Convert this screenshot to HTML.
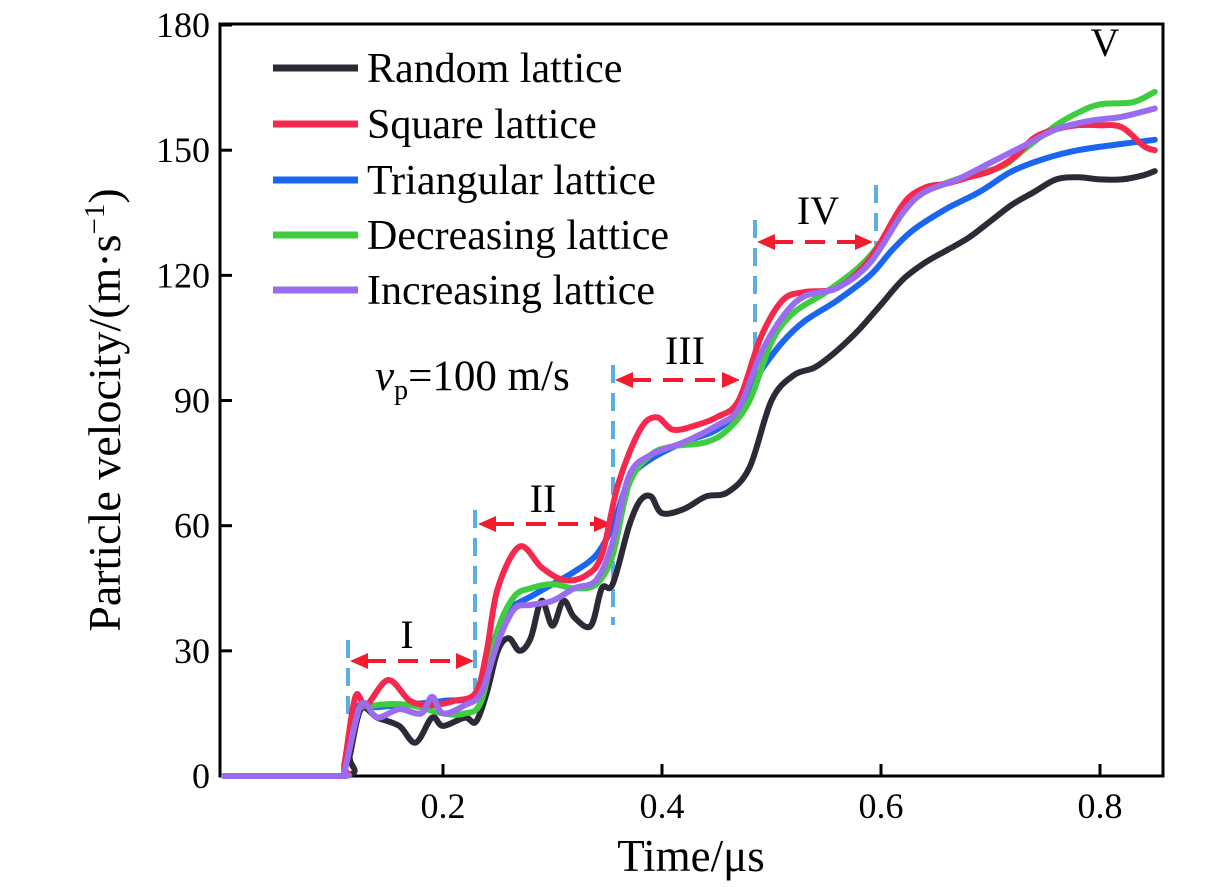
<!DOCTYPE html>
<html><head><meta charset="utf-8"><style>
body{margin:0;background:#fff}
svg{display:block;font-family:"Liberation Serif",serif}
</style></head><body>
<svg id="c" width="1228" height="887"></svg>
<script>
const ticksX=[0.2,0.4,0.6,0.8];
const ticksY=[0,30,60,90,120,150,180];
const tRandom=[0,0.11,0.115,0.125,0.14,0.16,0.175,0.19,0.2,0.22,0.23,0.24,0.25,0.26,0.27,0.28,0.29,0.3,0.31,0.32,0.335,0.345,0.355,0.37,0.38,0.39,0.4,0.42,0.44,0.46,0.48,0.5,0.52,0.54,0.56,0.58,0.6,0.62,0.64,0.66,0.68,0.7,0.72,0.74,0.76,0.78,0.8,0.82,0.84,0.85];
const vRandom=[0,0,5,16,14,12,8,14,12,14,13,20,30,33,30,33,42,36,42,38,36,45,46,60,66,67,63,64,67,68,74,90,96,98,102,107,113,119,123,126,129,133,137,140,143,143.5,143,143,144,145];
const tSquare=[0,0.105,0.11,0.12,0.13,0.15,0.17,0.19,0.21,0.23,0.24,0.25,0.27,0.29,0.31,0.33,0.345,0.36,0.38,0.395,0.41,0.43,0.45,0.47,0.49,0.51,0.53,0.56,0.59,0.62,0.64,0.66,0.68,0.7,0.72,0.74,0.76,0.78,0.8,0.82,0.84,0.85];
const vSquare=[0,0,3,19,17,23,18,17,18,20,30,45,55,50,47,48,53,70,83,86,83,84,86,90,105,114,116,117,124,137,141,142,143.5,145,148,153,155,156,156,155.5,151,150];
const tTri=[0,0.105,0.11,0.12,0.14,0.16,0.2,0.23,0.25,0.26,0.28,0.3,0.32,0.34,0.355,0.37,0.39,0.42,0.45,0.47,0.49,0.51,0.53,0.56,0.59,0.61,0.63,0.66,0.69,0.72,0.75,0.78,0.82,0.85];
const vTri=[0,0,2,16,16.5,17,18,20,35,40,43,46,49,53,60,71,76,80,83,88,97,104,109,114,120,126,131,136,140,145,148,150,151.5,152.5];
const tDec=[0,0.105,0.11,0.12,0.14,0.17,0.2,0.22,0.235,0.25,0.265,0.28,0.3,0.32,0.34,0.355,0.37,0.39,0.41,0.44,0.46,0.48,0.5,0.52,0.55,0.58,0.6,0.62,0.64,0.68,0.71,0.73,0.76,0.78,0.8,0.83,0.85];
const vDec=[0,0,2,15,17,17,15,15,18,35,43,45,46,45,46,53,70,77,79,80,83,90,104,111,116,122,128,136,140,144,146,150,156,159,161,161.5,164];
const tInc=[0,0.105,0.11,0.125,0.14,0.16,0.18,0.19,0.2,0.22,0.235,0.25,0.265,0.28,0.3,0.32,0.34,0.355,0.37,0.39,0.42,0.45,0.47,0.49,0.51,0.53,0.56,0.59,0.62,0.64,0.67,0.7,0.73,0.76,0.79,0.82,0.85];
const vInc=[0,0,1,17,14,16,15,19,15,17,20,32,40,41,42,45,47,56,72,77,80,84,88,101,110,115,117,123,135,140,143,147,151,155,157,158,160];

const X=t=>224+t*1095, Y=v=>776-v*4.172;
const svg=document.getElementById('c'), NS='http://www.w3.org/2000/svg';
function mk(tag,attrs,parent){const e=document.createElementNS(NS,tag);for(const k in attrs)e.setAttribute(k,attrs[k]);(parent||svg).appendChild(e);return e;}

const frame=mk('rect',{x:220,y:24,width:943,height:752,fill:'none',stroke:'#000','stroke-width':3});



ticksX.forEach(t=>{
  const l=mk('line',{x1:X(t),x2:X(t),y1:776,y2:764,stroke:'#000','stroke-width':3});
  
  
  const tx=mk('text',{x:X(t),y:818,'font-size':36,'text-anchor':'middle'});tx.textContent=t.toFixed(1);
  
  
});
ticksY.forEach(v=>{
  const l=mk('line',{x1:220,x2:232,y1:Y(v),y2:Y(v),stroke:'#000','stroke-width':3});
  
  
  const tx=mk('text',{x:210,y:Y(v)+12,'font-size':36,'text-anchor':'end'});tx.textContent=v;
  
  
});
const xt=mk('text',{x:691,y:871,'font-size':45,'text-anchor':'middle'});xt.textContent='Time/μs';


const yt=mk('text',{x:0,y:0,'font-size':46,'text-anchor':'middle',transform:'translate(120,410) rotate(-90)'});
yt.innerHTML='Particle velocity/(m·s<tspan dy="-16" font-size="29">−1</tspan><tspan dy="16">)</tspan>';



const vl=[[348,640,720],[475,510,690],[613,365,625],[755,220,380],[876,185,245]];
vl.forEach(a=>{const l=mk('line',{x1:a[0],x2:a[0],y1:a[1],y2:a[2],stroke:'#5aafe0','stroke-width':4,'stroke-dasharray':'18 10'});
  
  });
const ar=[[350,474,661,'I',407,648],[478,612,524,'II',543,512],[615,740,380,'III',685,364],[757,873,242,'IV',818,224]];
ar.forEach(a=>{
  const g=mk('g',{});
  
  
  mk('line',{x1:a[0]+16,x2:a[1]-16,y1:a[2],y2:a[2],stroke:'#f21c2c','stroke-width':4,'stroke-dasharray':'20 12'},g);
  mk('polygon',{points:`${a[0]},${a[2]} ${a[0]+18},${a[2]-8} ${a[0]+18},${a[2]+8}`,fill:'#f21c2c'},g);
  mk('polygon',{points:`${a[1]},${a[2]} ${a[1]-18},${a[2]-8} ${a[1]-18},${a[2]+8}`,fill:'#f21c2c'},g);
  const t=mk('text',{x:a[4],y:a[5],'font-size':40,'text-anchor':'middle'},g);t.textContent=a[3];
});
const v5=mk('text',{x:1105,y:56,'font-size':40,'text-anchor':'middle'});v5.textContent='V';


const vp=mk('text',{x:375,y:390,'font-size':43});
vp.innerHTML='<tspan font-style="italic">v</tspan><tspan dy="9" font-size="28">p</tspan><tspan dy="-9">=100 m/s</tspan>';



function smooth(pts){
  let d='M'+pts[0][0].toFixed(1)+','+pts[0][1].toFixed(1);
  for(let i=0;i<pts.length-1;i++){
    const p0=pts[Math.max(0,i-1)],p1=pts[i],p2=pts[i+1],p3=pts[Math.min(pts.length-1,i+2)];
    let c1=[p1[0]+(p2[0]-p0[0])/6,p1[1]+(p2[1]-p0[1])/6],c2=[p2[0]-(p3[0]-p1[0])/6,p2[1]-(p3[1]-p1[1])/6];
    const lo=Math.min(p1[1],p2[1]),hi=Math.max(p1[1],p2[1]);
    if(i<3){c1[1]=Math.min(Math.max(c1[1],lo),hi);c2[1]=Math.min(Math.max(c2[1],lo),hi);}
    d+=' C'+c1.map(v=>v.toFixed(1))+' '+c2.map(v=>v.toFixed(1))+' '+p2.map(v=>v.toFixed(1));
  }
  return d;
}
const series=[
 ['random-lattice',tRandom,vRandom,'#2b2a36','Random lattice'],
 ['triangular-lattice',tTri,vTri,'#1a66ee','Triangular lattice'],
 ['decreasing-lattice',tDec,vDec,'#40cc40','Decreasing lattice'],
 ['square-lattice',tSquare,vSquare,'#f5284e','Square lattice'],
 ['increasing-lattice',tInc,vInc,'#9a6cf0','Increasing lattice']
];
series.forEach(s=>{
  const pts=s[1].map((t,i)=>[X(t),Y(s[2][i])]);
  const p=mk('path',{d:smooth(pts),fill:'none',stroke:s[3],'stroke-width':6,'stroke-linejoin':'round','stroke-linecap':'round'});
  
  
});
const legOrder=[0,3,1,2,4],legY=[68,124,180,235,290];
legOrder.forEach((k,i)=>{
  const s=series[k];
  const g=mk('g',{});
  
  
  mk('line',{x1:273,x2:358,y1:legY[i],y2:legY[i],stroke:s[3],'stroke-width':7},g);
  const t=mk('text',{x:367,y:legY[i]+14,'font-size':42},g);t.textContent=s[4];
});
</script>
</body></html>
